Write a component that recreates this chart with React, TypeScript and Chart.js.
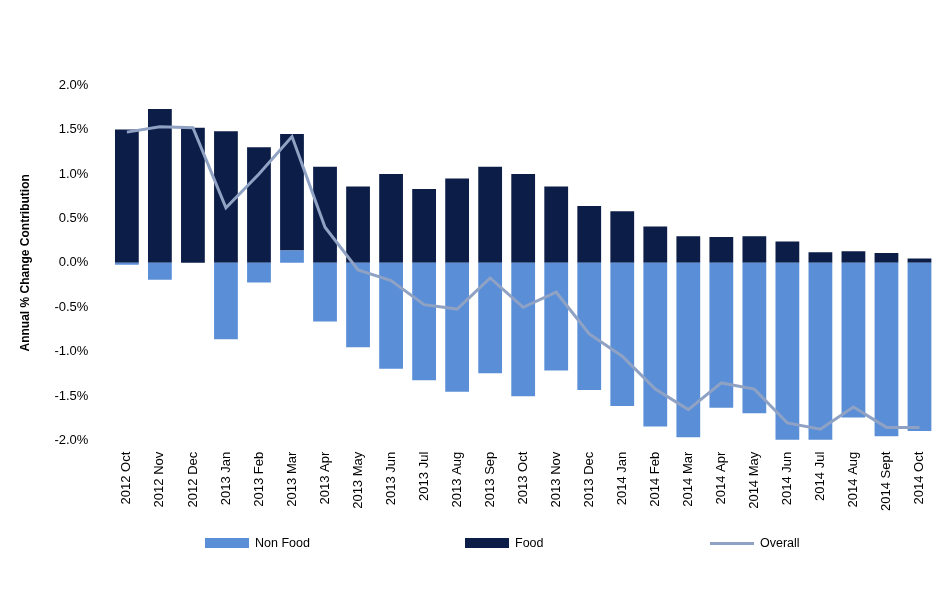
import React, { useEffect, useRef } from "react";
import { Chart, registerables } from "chart.js";
Chart.register(...registerables);

const categories = ["2012 Oct","2012 Nov","2012 Dec","2013 Jan","2013 Feb","2013 Mar","2013 Apr","2013 May","2013 Jun","2013 Jul","2013 Aug","2013 Sep","2013 Oct","2013 Nov","2013 Dec","2014 Jan","2014 Feb","2014 Mar","2014 Apr","2014 May","2014 Jun","2014 Jul","2014 Aug","2014 Sept","2014 Oct"];
const nonFood = [-0.02,-0.19,0,-0.86,-0.22,0.14,-0.66,-0.95,-1.19,-1.32,-1.45,-1.24,-1.5,-1.21,-1.43,-1.61,-1.84,-1.96,-1.63,-1.69,-1.99,-1.99,-1.74,-1.95,-1.89];
const food = [1.5,1.73,1.52,1.48,1.3,1.31,1.08,0.86,1.0,0.83,0.95,1.08,1.0,0.86,0.64,0.58,0.41,0.3,0.29,0.3,0.24,0.12,0.13,0.11,0.05];
const overall = [1.47,1.53,1.52,0.62,1.0,1.42,0.4,-0.08,-0.2,-0.47,-0.52,-0.17,-0.5,-0.33,-0.8,-1.05,-1.42,-1.65,-1.35,-1.42,-1.8,-1.87,-1.62,-1.85,-1.85];

const C_NF = "#5a8fd8", C_F = "#0c1d47", C_O = "#8fa2c4";

export default function App() {
  const ref = useRef<HTMLCanvasElement>(null);
  useEffect(() => {
    const chart = new Chart(ref.current!, {
      type: "bar",
      data: {
        labels: categories,
        datasets: [
          { type: "line", label: "Overall", data: overall, borderColor: C_O, borderWidth: 3, pointRadius: 0, tension: 0, order: 0 } as any,
          { label: "Non Food", data: nonFood, backgroundColor: C_NF, stack: "s", order: 1 },
          { label: "Food", data: food, backgroundColor: C_F, stack: "s", order: 1 },
        ],
      },
      options: {
        animation: false, responsive: false,
        layout: { padding: { left: 10, right: 4, top: 85, bottom: 88 } },
        plugins: { legend: { display: false }, tooltip: { enabled: false } },
        scales: {
          x: { stacked: true, grid: { display: false }, border: { display: false },
            ticks: { color: "#000", font: { family: "Liberation Sans", size: 13 }, minRotation: 90, maxRotation: 90, autoSkip: false },
            barPercentage: 0.52, categoryPercentage: 1 } as any,
          y: { stacked: true, min: -2, max: 2, grid: { display: false }, border: { display: false },
            ticks: { stepSize: 0.5, color: "#000", padding: 14, font: { family: "Liberation Sans", size: 13 }, callback: (v: any) => Number(v).toFixed(1) + "%" },
            title: { display: true, text: "Annual % Change Contribution", color: "#000", padding: 8, font: { family: "Liberation Sans", size: 12, weight: "bold" } } },
        },
      },
    });
    return () => chart.destroy();
  }, []);
  const item = (left: number, label: string, sw: React.CSSProperties) => (
    <div style={{ position: "absolute", left, top: 536, display: "flex", alignItems: "center", fontFamily: "Liberation Sans", fontSize: 12.5 }}>
      <div style={{ width: 44, ...sw, marginRight: 6 }} />{label}
    </div>
  );
  return (
    <div style={{ position: "fixed", left: 0, top: 0, width: 940, height: 602, background: "#fff" }}>
      <canvas ref={ref} width={940} height={602} />
      {item(205, "Non Food", { height: 10, background: C_NF })}
      {item(465, "Food", { height: 10, background: C_F })}
      {item(710, "Overall", { height: 3, background: C_O })}
    </div>
  );
}
